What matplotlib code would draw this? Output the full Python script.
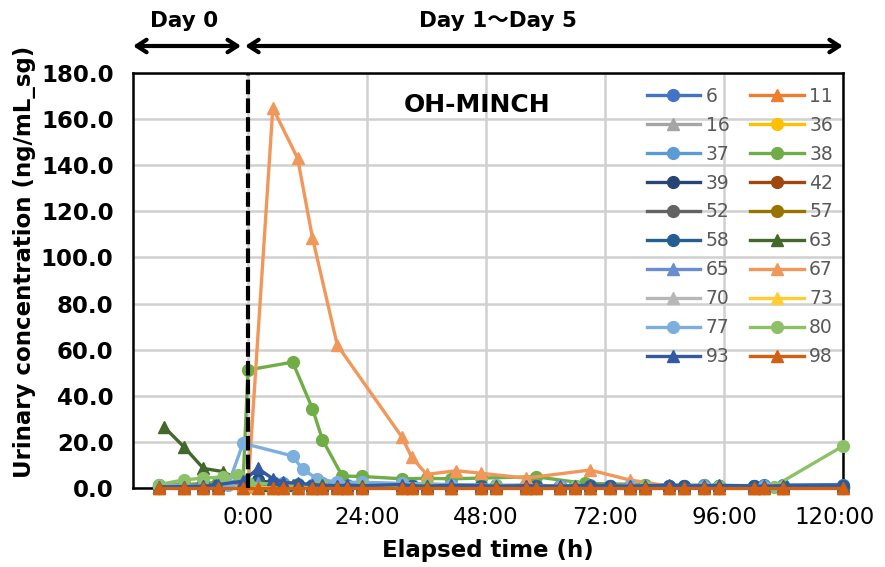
import matplotlib
matplotlib.use('Agg')
import matplotlib.pyplot as plt
import matplotlib.transforms as mtransforms
from matplotlib.ticker import FormatStrFormatter

plt.rcParams['font.family'] = ['DejaVu Sans', 'Noto Sans CJK JP']

# subject ids, colours and markers (Excel default palette)
subjects = ['6', '11', '16', '36', '37', '38', '39', '42', '52', '57',
            '58', '63', '65', '67', '70', '73', '77', '80', '93', '98']
colors = ['#4472C4', '#ED7D31', '#A5A5A5', '#FFC000', '#5B9BD5', '#70AD47',
          '#264478', '#9E480E', '#636363', '#997300', '#255E91', '#43682B',
          '#698ED0', '#F1975A', '#B7B7B7', '#FFCD33', '#7CAFDD', '#8CC168',
          '#335AA1', '#D26012']
markers = ['o', '^', '^', 'o', 'o', 'o', 'o', 'o', 'o', 'o',
           'o', '^', '^', '^', '^', '^', 'o', 'o', '^', '^']

# common sampling times (h) for the low-level subjects
hours_a = [-18, -13, -9, -6, -1, 2, 5, 7, 10, 13, 15, 18, 20, 23, 31, 33, 36, 41,
           47, 50, 56, 58, 63, 66, 69, 73, 77, 80, 85, 88, 92, 95, 102, 104, 108, 120]

s06 = [1.2, 0.8, 1.0, 1.5, 1.8, 2.0, 1.5, 1.2, 1.0, 0.9, 1.1, 0.8, 0.7, 1.0, 1.2, 0.9, 0.8, 1.0,
       0.7, 0.6, 0.8, 0.9, 0.7, 0.6, 0.8, 0.9, 1.0, 0.8, 0.7, 0.9, 1.0, 0.8, 0.9, 1.1, 1.3, 1.5]
s11 = [0.3, 0.2, 0.4, 0.5, 0.3, 0.8, 0.5, 0.4, 0.3, 0.2, 0.3, 0.4, 0.2, 0.3, 0.5, 0.4, 0.3, 0.2,
       0.3, 0.4, 0.2, 0.3, 0.2, 0.3, 0.2, 0.3, 0.2, 0.2, 0.3, 0.2, 0.3, 0.2, 0.2, 0.3, 0.2, 0.3]
s16 = [0.0, 0.1, 0.0, 0.2, 0.1, 0.3, 0.1, 0.0, 0.1, 0.0, 0.1, 0.0, 0.1, 0.0, 0.1, 0.0, 0.1, 0.0,
       0.1, 0.0, 0.1, 0.0, 0.1, 0.0, 0.1, 0.0, 0.1, 0.0, 0.1, 0.0, 0.1, 0.0, 0.1, 0.0, 0.1, 0.0]
s36 = [0.0, 0.0, 0.1, 0.0, 0.2, 0.1, 0.0, 0.1, 0.0, 0.0, 0.1, 0.0, 0.0, 0.1, 0.0, 0.0, 0.1, 0.0,
       0.0, 0.1, 0.0, 0.0, 0.1, 0.0, 0.0, 0.1, 0.0, 0.0, 0.1, 0.0, 0.0, 0.1, 0.0, 0.0, 0.1, 0.0]
s37 = [1.0, 1.5, 1.2, 2.0, 3.5, 3.0, 2.5, 2.0, 1.8, 1.5, 2.0, 1.6, 1.4, 1.5, 1.8, 1.2, 1.0, 1.4,
       1.2, 1.0, 1.3, 1.1, 0.9, 1.0, 1.2, 1.0, 0.8, 1.1, 1.0, 0.9, 1.2, 1.0, 0.8, 0.9, 1.0, 0.8]
s39 = [0.5, 0.8, 1.2, 1.0, 2.5, 3.5, 2.0, 1.5, 1.2, 1.0, 0.8, 1.0, 0.7, 0.9, 0.8, 0.6, 0.7, 0.5,
       0.6, 0.5, 0.7, 0.6, 0.5, 0.4, 0.6, 0.5, 0.4, 0.5, 0.6, 0.4, 0.5, 0.4, 0.5, 0.4, 0.3, 0.4]
s42 = [0.2, 0.3, 0.2, 0.4, 0.5, 0.6, 0.4, 0.3, 0.2, 0.3, 0.2, 0.3, 0.2, 0.2, 0.3, 0.2, 0.2, 0.3,
       0.2, 0.2, 0.3, 0.2, 0.2, 0.3, 0.2, 0.2, 0.3, 0.2, 0.2, 0.3, 0.2, 0.2, 0.3, 0.2, 0.2, 0.2]
s52 = [0.4, 0.3, 0.5, 0.4, 0.6, 0.8, 0.5, 0.4, 0.5, 0.3, 0.4, 0.3, 0.4, 0.3, 0.4, 0.3, 0.4, 0.3,
       0.4, 0.3, 0.4, 0.3, 0.4, 0.3, 0.4, 0.3, 0.4, 0.3, 0.4, 0.3, 0.4, 0.3, 0.4, 0.3, 0.4, 0.3]
s57 = [0.1, 0.2, 0.1, 0.2, 0.3, 0.4, 0.2, 0.1, 0.2, 0.1, 0.2, 0.1, 0.2, 0.1, 0.2, 0.1, 0.2, 0.1,
       0.2, 0.1, 0.2, 0.1, 0.2, 0.1, 0.2, 0.1, 0.2, 0.1, 0.2, 0.1, 0.2, 0.1, 0.2, 0.1, 0.2, 0.1]
s58 = [0.8, 1.0, 0.9, 1.2, 1.5, 2.5, 1.8, 1.4, 1.2, 1.0, 1.1, 0.9, 1.0, 1.2, 1.0, 0.8, 0.9, 1.1,
       0.9, 0.8, 1.0, 0.9, 0.8, 0.9, 1.0, 0.8, 0.9, 1.0, 0.8, 0.9, 1.0, 0.9, 0.8, 1.0, 0.9, 0.8]
s65 = [0.6, 0.9, 0.7, 1.0, 1.4, 2.2, 1.6, 1.2, 0.9, 0.8, 1.0, 0.7, 0.8, 0.9, 1.1, 0.8, 0.7, 0.9,
       0.8, 0.6, 0.9, 0.7, 0.6, 0.8, 0.9, 0.7, 0.6, 0.8, 0.7, 0.6, 0.8, 0.7, 0.6, 0.7, 0.8, 0.6]
s70 = [0.1, 0.0, 0.1, 0.0, 0.1, 0.2, 0.1, 0.0, 0.1, 0.0, 0.1, 0.0, 0.1, 0.0, 0.1, 0.0, 0.1, 0.0,
       0.1, 0.0, 0.1, 0.0, 0.1, 0.0, 0.1, 0.0, 0.1, 0.0, 0.1, 0.0, 0.1, 0.0, 0.1, 0.0, 0.1, 0.0]
s73 = [0.0, 0.1, 0.0, 0.1, 0.0, 0.2, 0.0, 0.1, 0.0, 0.1, 0.0, 0.1, 0.0, 0.1, 0.0, 0.1, 0.0, 0.1,
       0.0, 0.1, 0.0, 0.1, 0.0, 0.1, 0.0, 0.1, 0.0, 0.1, 0.0, 0.1, 0.0, 0.1, 0.0, 0.1, 0.0, 0.1]
s93 = [0.5, 0.6, 0.8, 1.5, 3.0, 8.5, 4.0, 2.5, 2.0, 1.5, 1.2, 1.0, 1.2, 1.0, 1.5, 1.0, 0.8, 1.2,
       1.0, 0.8, 1.0, 0.9, 0.8, 1.0, 1.2, 1.0, 0.8, 1.0, 1.2, 0.9, 1.0, 1.1, 0.9, 0.8, 1.0, 0.9]
s98 = [0.0, 0.0, 0.0, 0.0, 0.0, 0.0, 0.0, 0.0, 0.0, 0.0, 0.0, 0.0, 0.0, 0.0, 0.0, 0.0, 0.0, 0.0,
       0.0, 0.0, 0.0, 0.0, 0.0, 0.0, 0.0, 0.0, 0.0, 0.0, 0.0, 0.0, 0.0, 0.0, 0.0, 0.0, 0.0, 0.0]

# subjects with their own sampling times
hours_38 = [-18, -13, -9, -6, -1, 0, 9, 13, 15, 19, 23, 31, 36, 41, 47, 58, 68, 80, 92, 104]
s38 = [1.0, 1.5, 2.0, 2.5, 3.0, 51.2, 54.6, 34.4, 21.0, 5.2, 5.0, 4.0, 4.2, 4.0, 4.3, 4.9,
       2.0, 1.5, 1.2, 1.0]
hours_63 = [-17, -13, -9, -5, -1, 3, 9, 15, 23, 33, 47, 58, 73, 88, 104]
s63 = [26.6, 18.0, 8.5, 7.1, 2.5, 1.5, 1.2, 1.0, 0.8, 1.0, 0.8, 0.7, 0.6, 0.8, 0.6]
hours_67 = [-18, -13, -9, -6, -1, 0, 5, 10, 13, 18, 31, 33, 36, 42, 47, 56, 69, 77, 85, 95, 104, 108]
s67 = [0.5, 0.5, 0.3, 0.5, 0.8, 0.5, 164.8, 143.0, 108.5, 62.0, 22.2, 13.4, 5.9, 7.5, 6.4, 4.3,
       7.8, 3.5, 0.8, 0.5, 0.3, 0.2]
hours_77 = [-18, -13, -9, -4, -1, 9, 11, 14, 18, 23, 31, 41, 50, 63, 77, 92, 104]
s77 = [1.0, 1.0, 0.8, 1.5, 19.4, 13.9, 8.1, 4.0, 2.5, 2.5, 2.0, 1.5, 1.2, 1.0, 1.0, 0.8, 0.8]
hours_80 = [-18, -13, -9, -5, -2, 0, 7, 15, 23, 36, 50, 66, 80, 95, 106, 120]
s80 = [1.5, 3.5, 4.3, 4.8, 5.6, 2.0, 1.5, 1.2, 1.0, 1.2, 1.0, 0.8, 0.8, 0.7, 0.6, 18.2]

series = {
    '6': (hours_a, s06), '11': (hours_a, s11), '16': (hours_a, s16), '36': (hours_a, s36),
    '37': (hours_a, s37), '38': (hours_38, s38), '39': (hours_a, s39), '42': (hours_a, s42),
    '52': (hours_a, s52), '57': (hours_a, s57), '58': (hours_a, s58), '63': (hours_63, s63),
    '65': (hours_a, s65), '67': (hours_67, s67), '70': (hours_a, s70), '73': (hours_a, s73),
    '77': (hours_77, s77), '80': (hours_80, s80), '93': (hours_a, s93), '98': (hours_a, s98),
}

fig = plt.figure(figsize=(8.85, 5.67), dpi=100)
ax = fig.add_axes([0.1503, 0.1393, 0.8022, 0.732])

handles = []
for name, col, mk in zip(subjects, colors, markers):
    t, v = series[name]
    ms = 9 if mk == '^' else 8.5
    h, = ax.plot(t, v, color=col, marker=mk, markersize=ms, lw=2.4,
                 label=name, clip_on=False, zorder=3)
    handles.append(h)

# start of exposure
ax.axvline(0, color='black', lw=3, dashes=(3.5, 1.0), zorder=10)

ax.set_xlim(-23.2, 120)
ax.set_ylim(0, 180)
ax.set_xticks([0, 24, 48, 72, 96, 120])
ax.set_xticklabels(['0:00', '24:00', '48:00', '72:00', '96:00', '120:00'])
ax.set_yticks(range(0, 181, 20))
ax.yaxis.set_major_formatter(FormatStrFormatter('%.1f'))
ax.tick_params(axis='x', length=0, labelsize=16.5, pad=13)
ax.tick_params(axis='y', length=0, labelsize=16.5, pad=14)
for lab in ax.get_yticklabels():
    lab.set_fontweight('bold')
# last x label is pushed inside the figure, as in the original
last = ax.get_xticklabels()[-1]
last.set_transform(last.get_transform() + mtransforms.ScaledTranslation(-0.08, 0, fig.dpi_scale_trans))

ax.grid(True, color='#D0D0D0', lw=1.8, zorder=0)
ax.set_axisbelow(True)
for sp in ax.spines.values():
    sp.set_linewidth(1.8)
    sp.set_color('black')

ax.set_ylabel('Urinary concentration (ng/mL_sg)', fontsize=16.5, fontweight='bold')
ax.yaxis.set_label_coords(-0.137, 0.545)
ax.set_xlabel('Elapsed time (h)', fontsize=16.5, fontweight='bold', labelpad=7)
ax.text(31.5, 166, 'OH-MINCH', fontsize=18, fontweight='bold', ha='left', va='center')

# day ranges above the plot
arrow = dict(arrowstyle='<->,head_length=0.7,head_width=0.45', lw=3, color='black',
             shrinkA=0, shrinkB=0)
ax.annotate('', xy=(-23.2, 1.065), xytext=(-1.4, 1.065), xycoords=('data', 'axes fraction'),
            textcoords=('data', 'axes fraction'), arrowprops=arrow, annotation_clip=False)
ax.annotate('', xy=(-0.6, 1.065), xytext=(120, 1.065), xycoords=('data', 'axes fraction'),
            textcoords=('data', 'axes fraction'), arrowprops=arrow, annotation_clip=False)
ax.text(-13, 1.125, 'Day 0', transform=ax.get_xaxis_transform(), ha='center', va='center',
        fontsize=15.5, fontweight='bold')
ax.text(50.5, 1.125, 'Day 1〜Day 5', transform=ax.get_xaxis_transform(), ha='center',
        va='center', fontsize=15.5, fontweight='bold')

order = handles[0::2] + handles[1::2]
leg = ax.legend(handles=order, ncol=2, loc='upper left', bbox_to_anchor=(0.713, 0.985),
                frameon=False, fontsize=13.5, handlelength=2.85, handletextpad=0.3,
                columnspacing=1.1, labelspacing=0.53, borderaxespad=0)
for txt in leg.get_texts():
    txt.set_color('#595959')

fig.savefig('out.png', dpi=100, facecolor='white')
